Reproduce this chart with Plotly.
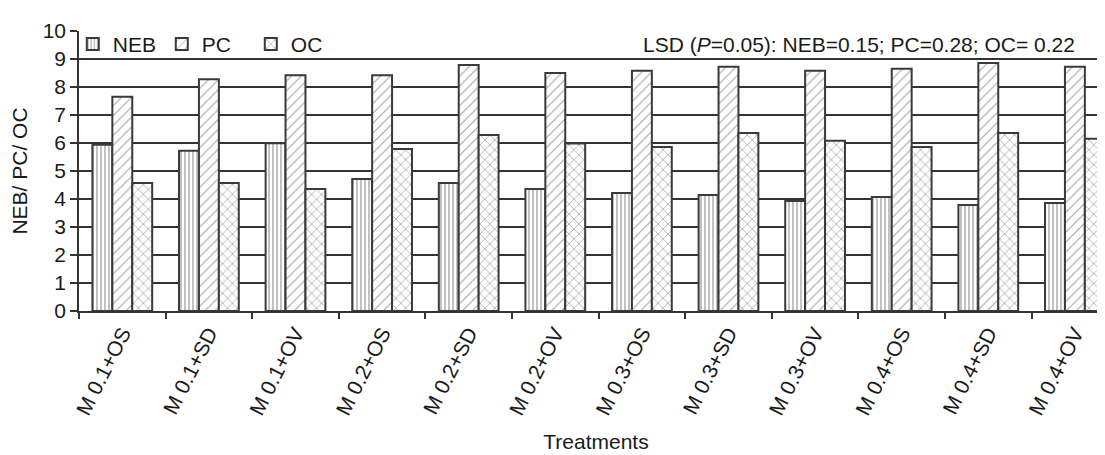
import plotly.graph_objects as go

categories = ["M 0.1+OS", "M 0.1+SD", "M 0.1+OV", "M 0.2+OS", "M 0.2+SD", "M 0.2+OV",
              "M 0.3+OS", "M 0.3+SD", "M 0.3+OV", "M 0.4+OS", "M 0.4+SD", "M 0.4+OV"]
neb = [5.94, 5.72, 5.99, 4.71, 4.57, 4.36, 4.21, 4.14, 3.93, 4.07, 3.79, 3.86]
pc = [7.65, 8.28, 8.42, 8.42, 8.79, 8.50, 8.58, 8.72, 8.58, 8.65, 8.86, 8.72]
oc = [4.57, 4.57, 4.36, 5.79, 6.29, 5.98, 5.86, 6.36, 6.08, 5.86, 6.36, 6.15]
y_ticks = list(range(0, 11))

FONT = "Liberation Sans, Arial, sans-serif"
TXT = "#1a1a1a"
EDGE = "#3a3a3a"
FS = 21

def bar(name, vals, shape, size, solidity, fg):
    return go.Bar(
        name=name, x=categories, y=vals,
        marker=dict(color="white",
                    line=dict(color=EDGE, width=2),
                    pattern=dict(shape=shape, fgcolor=fg, bgcolor="white",
                                 size=size, solidity=solidity)),
    )

fig = go.Figure([
    bar("NEB", neb, "|", 4, 0.3, "#333333"),
    bar("PC", pc, "/", 7, 0.15, "#444444"),
    bar("OC", oc, "x", 7, 0.2, "#444444"),
])

fig.update_layout(
    width=1105, height=455,
    margin=dict(l=71, r=0, t=23, b=152),
    paper_bgcolor="white", plot_bgcolor="white",
    font=dict(family=FONT, size=FS, color=TXT),
    barmode="group", bargap=0.31, bargroupgap=0,
    showlegend=True,
    legend=dict(orientation="h", x=-0.006, y=0.952, xanchor="left", yanchor="middle",
                bgcolor="rgba(0,0,0,0)", font=dict(size=FS, color=TXT),
                itemwidth=30, entrywidth=44, tracegroupgap=0),
    annotations=[dict(
        text="LSD (<i>P</i>=0.05): NEB=0.15; PC=0.28; OC= 0.22",
        xref="paper", yref="y", x=0.965, y=9.52, xanchor="right", yanchor="middle",
        showarrow=False, font=dict(size=FS, color=TXT))],
)

fig.update_xaxes(
    range=[-0.5, 11.44], tickangle=-63, tickson="boundaries",
    ticks="outside", ticklen=6, tickcolor="#333333", tickwidth=1.5,
    showline=True, linecolor="#333333", linewidth=1.5,
    showgrid=False, title=dict(text="Treatments", font=dict(size=FS), standoff=16),
    tickfont=dict(size=FS),
)
fig.update_yaxes(
    range=[0, 10], tickvals=y_ticks, ticks="outside", ticklen=7,
    tickcolor="#333333", tickwidth=1.5,
    showline=True, linecolor="#333333", linewidth=1.5,
    showgrid=True, gridcolor="#333333", gridwidth=1.5, zeroline=False,
    title=dict(text="NEB/ PC/ OC", font=dict(size=FS), standoff=10),
    tickfont=dict(size=FS),
)

fig.write_html("out.html")
